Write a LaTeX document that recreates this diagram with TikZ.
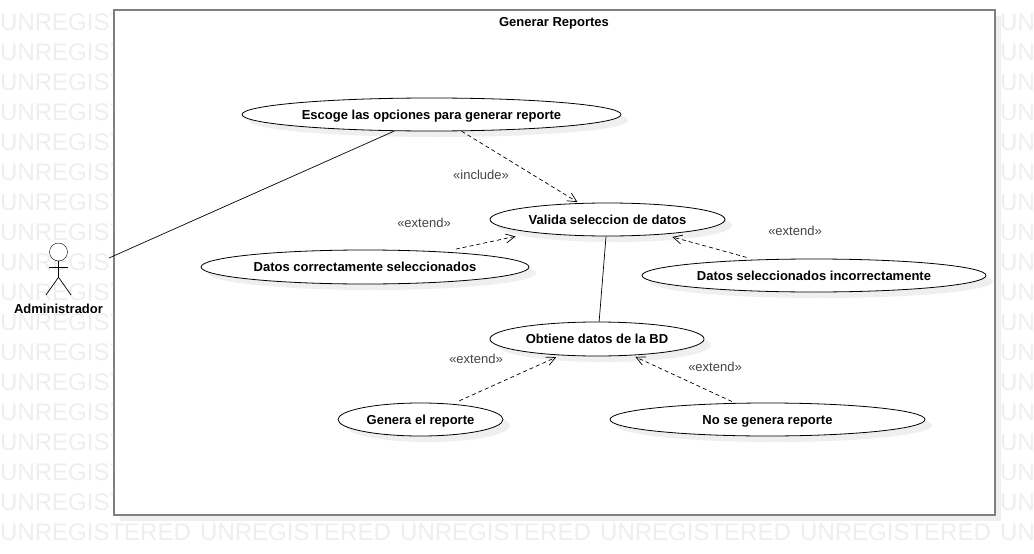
\documentclass[tikz,border=0pt]{standalone}
\usepackage{fontspec}
\usepackage{xcolor}
\usetikzlibrary{arrows.meta,shadows,shapes.geometric}
\setmainfont{Liberation Sans}
\definecolor{framecolor}{HTML}{7F7F7F}
\definecolor{markcolor}{HTML}{EEEEEE}
\definecolor{shadecolor}{HTML}{EFEFEF}
\definecolor{labelcolor}{HTML}{444444}
\tikzstyle{watermark} = [
    text=markcolor,
    font=\fontsize{24}{28}\selectfont,
    inner sep=0pt,
    anchor=west
    ]
\tikzstyle{sysbox} = [
    draw=framecolor,
    fill=white,
    line width=2pt,
    rectangle,
    inner sep=0pt,
    drop shadow={shadow xshift=6pt,shadow yshift=-6pt,fill=shadecolor,opacity=1}
    ]
\tikzstyle{usecase} = [
    draw=black,
    fill=white,
    ellipse,
    line width=0.8pt,
    inner sep=0pt,
    text height=9pt,
    text depth=0pt,
    font=\fontsize{13}{15}\selectfont\bfseries,
    drop shadow={shadow xshift=7pt,shadow yshift=-6pt,fill=shadecolor,opacity=1}
    ]
\tikzstyle{boldtext} = [
    text=black,
    inner sep=0pt,
    text height=9pt,
    text depth=0pt,
    font=\fontsize{13}{15}\selectfont\bfseries
    ]
\tikzstyle{stereo} = [
    text=labelcolor,
    inner sep=0pt,
    text height=9pt,
    text depth=0pt,
    font=\fontsize{13}{15}\selectfont
    ]
\tikzstyle{assoc} = [black, line width=0.7pt]
\tikzstyle{dep} = [black, line width=0.7pt, dash pattern=on 4pt off 3pt,
    -{Straight Barb[length=9pt,width=9pt,line width=0.7pt]}]
\begin{document}
\begin{tikzpicture}[x=1pt,y=-1pt]
\useasboundingbox (0,0) rectangle (1034,554);
% watermark
\begin{scope}
\clip (0,0) rectangle (1034,554);
\foreach \row in {22,52,...,502} {
    \node[watermark] (markL\row) at (0,\row) {UNREGISTERED};
    \node[watermark] (markR\row) at (1000,\row) {UNREGISTERED};
}
\foreach \col in {0,200,...,1000} {
    \node[watermark] (markB\col) at (\col,532) {UNREGISTERED};
}
\end{scope}

\node[sysbox, minimum width=881pt, minimum height=505pt] (frame) at (554.5,262.5) {};
\node[boldtext] (title) at (554,22.5) {Generar Reportes};

% use cases
\node[usecase, minimum width=379pt, minimum height=33pt] (escoge) at (431.5,114.5) {Escoge las opciones para generar reporte};
\node[usecase, minimum width=235pt, minimum height=33pt] (valida) at (607.5,219.5) {Valida seleccion de datos};
\node[usecase, minimum width=328pt, minimum height=34pt] (correctos) at (365,267) {Datos correctamente seleccionados};
\node[usecase, minimum width=344pt, minimum height=33pt] (incorrectos) at (814,275.5) {Datos seleccionados incorrectamente};
\node[usecase, minimum width=214pt, minimum height=34pt] (obtiene) at (597,339) {Obtiene datos de la BD};
\node[usecase, minimum width=165pt, minimum height=33pt] (genera) at (420.5,419.5) {Genera el reporte};
\node[usecase, minimum width=315pt, minimum height=33pt] (nogenera) at (767.5,419.5) {No se genera reporte};

% actor
\node[draw=black, fill=white, circle, minimum size=18pt, inner sep=0pt] (adminHead) at (58.5,252) {};
\draw[black, line width=0.7pt] (adminHead.south) -- ++(0,16) coordinate (adminHip);
\draw[black, line width=0.7pt] (49,267) -- (68,267);
\draw[black, line width=0.7pt] (46,295) -- (adminHip) -- (71,295);
\node[boldtext] (admin) at (58.5,308.5) {Administrador};
\coordinate (adminEnd) at (109,258);

% connectors
\draw[assoc] (escoge.204) -- (adminEnd);
\draw[assoc] (valida.265) -- (obtiene.83);
\draw[dep, shorten >=2pt] (escoge.331) -- (valida.150);
\draw[dep, shorten <=12.5pt, shorten >=18pt] (correctos.11) -- (valida.190);
\draw[dep, shorten <=8.5pt, shorten >=9.5pt] (incorrectos.165.5) -- (valida.345.5);
\draw[dep, shorten <=7.5pt, shorten >=4.5pt] (genera.26) -- (obtiene.204);
\draw[dep, shorten <=3.5pt, shorten >=3.5pt] (nogenera.153.5) -- (obtiene.335);

% stereotype labels
\node[stereo] (lblInclude) at (481,174.7) {«include»};
\node[stereo] (lblCorrectos) at (424,222.7) {«extend»};
\node[stereo] (lblIncorrectos) at (795,230.7) {«extend»};
\node[stereo] (lblGenera) at (476,358.7) {«extend»};
\node[stereo] (lblNoGenera) at (715,366.7) {«extend»};
\end{tikzpicture}
\end{document}
